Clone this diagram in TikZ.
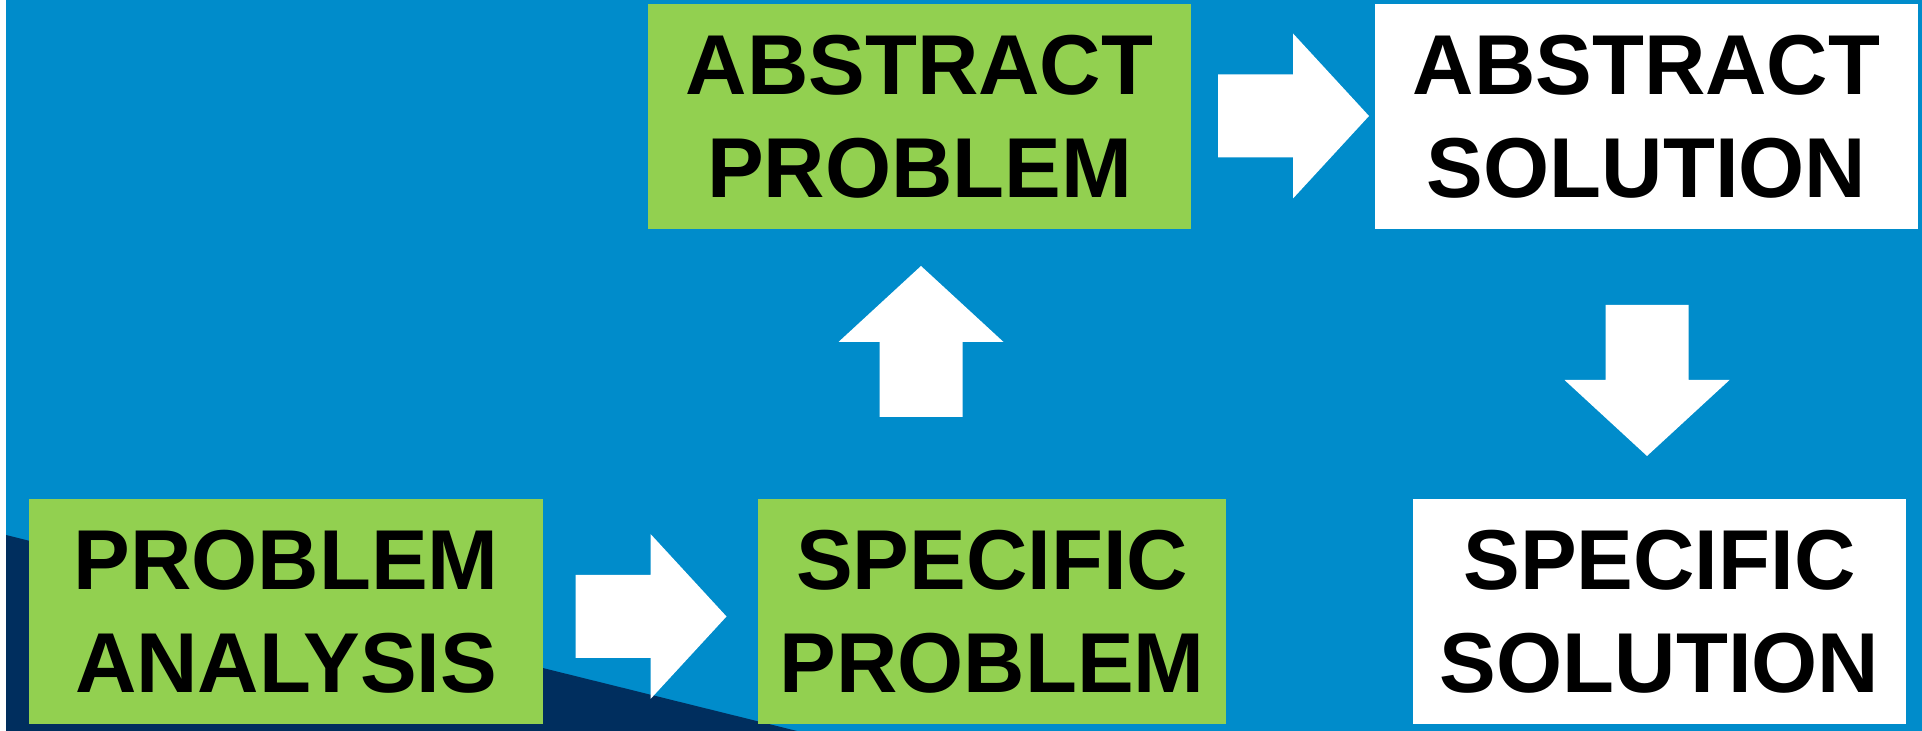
\documentclass[tikz,border=0pt]{standalone}
\usepackage{fontspec}
\setmainfont{Liberation Sans}
\usetikzlibrary{calc}

\definecolor{skyblue}{HTML}{008CCB}
\definecolor{deepnavy}{HTML}{002E5E}
\definecolor{leafgreen}{HTML}{92D050}

\begin{document}
\begin{tikzpicture}[
    x=0.5pt, y=0.5pt,
    stage/.style={rectangle, fill=leafgreen, text=black, inner sep=0pt,
        font=\bfseries\fontsize{42.5}{51.5}\selectfont, align=center,
        minimum height=112.5pt},
    result/.style={stage, fill=white},
    bigarrow/.pic={
        \fill[white] (-75,-41.5) -- (0,-41.5) -- (0,-82.5) -- (76,0)
            -- (0,82.5) -- (0,41.5) -- (-75,41.5) -- cycle;
    }
]
    \useasboundingbox (0,0) rectangle (1922,731);
    % backdrop
    \fill[white] (0,0) rectangle (6,731);
    \fill[skyblue] (6,0) rectangle (1922,731);
    \fill[deepnavy] (6,196) -- (797,0) -- (6,0) -- cycle;

    % boxes
    \node[stage, minimum width=257pt] (analysis) at (286,119.5) {PROBLEM\\ANALYSIS};
    \node[stage, minimum width=234pt] (specprob) at (992,119.5) {SPECIFIC\\PROBLEM};
    \node[stage, minimum width=271.5pt] (absprob) at (919.5,614) {ABSTRACT\\PROBLEM};
    \node[result, minimum width=271.5pt] (abssol) at (1646.5,614) {ABSTRACT\\SOLUTION};
    \node[result, minimum width=246.5pt] (specsol) at (1659.5,119.5) {SPECIFIC\\SOLUTION};

    % block arrows between the boxes
    \pic at ($(analysis.east)!0.5!(specprob.west)+(0,-5)$) {bigarrow};
    \pic[rotate=90] at (921,389) {bigarrow};
    \pic at (1293,615) {bigarrow};
    \pic[rotate=-90] at (1647,351) {bigarrow};
\end{tikzpicture}
\end{document}
